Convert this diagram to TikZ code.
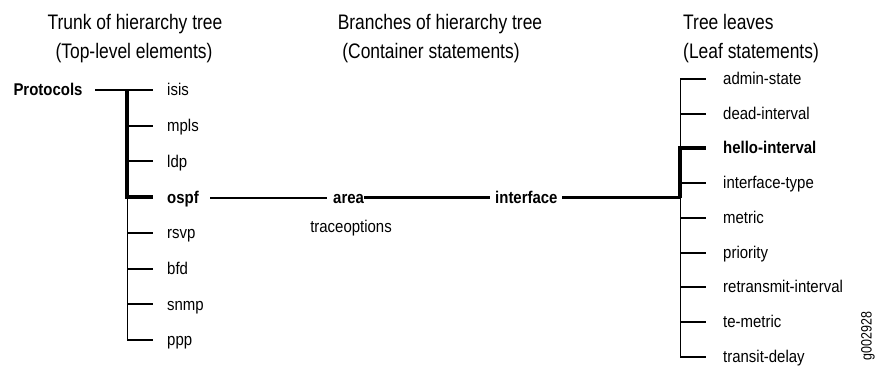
\documentclass[tikz,border=0pt]{standalone}
\usepackage{fontspec}
\setmainfont[FakeStretch=0.88]{Liberation Sans}
\newfontfamily\headfont[FakeStretch=0.83]{Liberation Sans}
\usetikzlibrary{positioning}
\tikzset{
  leaf/.style={anchor=base west, inner sep=0pt, font=\fontsize{17}{17}\selectfont},
  keyleaf/.style={leaf, font=\fontsize{17}{17}\selectfont\bfseries},
  head/.style={anchor=base, inner sep=0pt, font=\fontsize{21}{21}\headfont},
  twig/.style={line width=2pt},
  trunk/.style={line width=4pt},
  stem/.style={line width=0.9pt}
}
\begin{document}
\begin{tikzpicture}[x=1pt, y=-1pt]
\useasboundingbox (0,0) rectangle (875,366);
\node[head] (h1a) at (135,30) {Trunk of hierarchy tree};
\node[head] (h1b) at (134,59) {(Top-level elements)};
\node[head] (h2a) at (440,30) {Branches of hierarchy tree};
\node[head] (h2b) at (431,59) {(Container statements)};
\node[head, anchor=base west] (h3a) at (683,30) {Tree leaves};
\node[head, anchor=base west] (h3b) at (683,59) {(Leaf statements)};
\node[keyleaf, anchor=base] (prot) at (48,96) {Protocols};
\coordinate (p-end) at (95,90);
\foreach \name/\sty [count=\i from 0] in {isis/leaf, mpls/leaf, ldp/leaf, ospf/keyleaf, rsvp/leaf, bfd/leaf, snmp/leaf, ppp/leaf} {
  \node[\sty] (t-\name) at (167,96+35.7*\i) {\name};
  \coordinate (j-\name) at (127,90+35.7*\i);
  \coordinate (e-\name) at (153,90+35.7*\i);
}
\foreach \name/\sty [count=\i from 0] in {admin-state/leaf, dead-interval/leaf, hello-interval/keyleaf, interface-type/leaf, metric/leaf, priority/leaf, retransmit-interval/leaf, te-metric/leaf, transit-delay/leaf} {
  \node[\sty] (l-\name) at (723,84.5+34.7*\i) {\name};
  \coordinate (k-\name) at (680,79+34.7*\i);
  \coordinate (f-\name) at (706,79+34.7*\i);
}
\node[keyleaf] (area) at (333,204) {area};
\node[keyleaf] (intf) at (495,204) {interface};
\node[leaf, anchor=base] (trace) at (351,232) {traceoptions};
\coordinate (o-end) at (210,198);
\coordinate (a-in) at (327,198);
\coordinate (a-out) at (364,198);
\coordinate (i-in) at (490,198);
\coordinate (i-out) at (562,198);
\coordinate (k-intf) at (680,198);
\draw[stem] (j-ospf) -- (j-ppp);
\foreach \name in {isis, mpls, ldp, rsvp, bfd, snmp, ppp}
  \draw[twig] (j-\name) -- (e-\name);
\draw[twig] (p-end) -- (j-isis);
\draw[trunk] (j-isis) -- (j-ospf) -- (e-ospf);
\draw[twig] (o-end) -- (a-in);
\draw[line width=3pt] (a-out) -- (i-in);
\draw[line width=3pt] (i-out) -- (k-intf);
\draw[stem] (k-admin-state) -- (k-transit-delay);
\foreach \name in {admin-state, dead-interval, interface-type, metric, priority, retransmit-interval, te-metric, transit-delay}
  \draw[twig] (k-\name) -- (f-\name);
\draw[trunk] (k-intf) -- (k-hello-interval) -- (f-hello-interval);
\node[rotate=90, inner sep=0pt, font=\fontsize{15}{15}\headfont] (code) at (868,336) {g002928};
\end{tikzpicture}
\end{document}
